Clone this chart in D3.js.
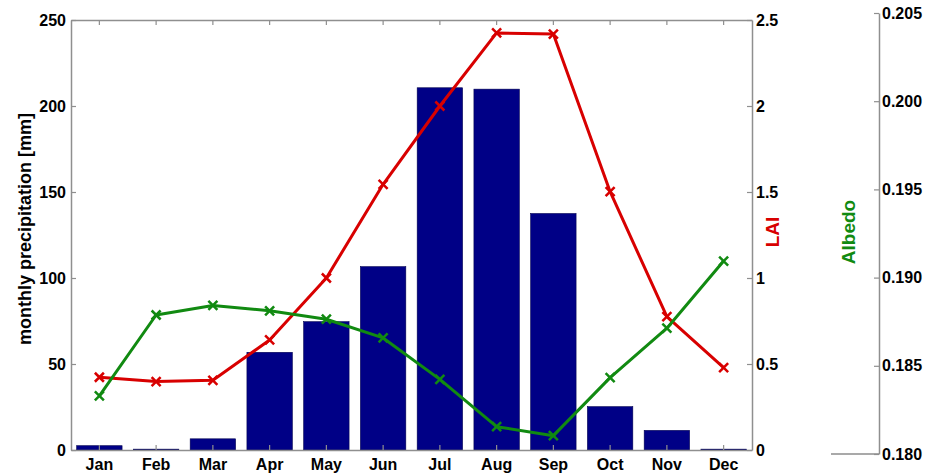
<!DOCTYPE html>
<html>
<head>
<meta charset="utf-8">
<script src="https://cdn.jsdelivr.net/npm/d3@7"></script>
<style>
  html, body { margin: 0; padding: 0; background: #fff; }
  svg { display: block; font-family: "Liberation Sans", Arial, sans-serif; }
  .tick text { font-weight: bold; font-size: 16px; fill: #000; }
</style>
</head>
<body>
<svg id="chart" width="928" height="474"></svg>
<script>
// Monthly climate: precipitation bars, leaf area index and surface albedo
const months = ["Jan", "Feb", "Mar", "Apr", "May", "Jun", "Jul", "Aug", "Sep", "Oct", "Nov", "Dec"];
const precipitation = [2.5, 0.5, 6.5, 56.8, 74.6, 106.6, 210.6, 209.8, 137.5, 25.2, 11.4, 0.5];
const lai = [0.423, 0.398, 0.405, 0.64, 1.0, 1.545, 2.0, 2.425, 2.418, 1.502, 0.775, 0.479];
const albedo = [0.18329, 0.18788, 0.18842, 0.18812, 0.18764, 0.18658, 0.18423, 0.18155, 0.18104, 0.18433, 0.18713, 0.19094];

const precipTicks = [0, 50, 100, 150, 200, 250];
const laiTicks = [0, 0.5, 1, 1.5, 2, 2.5];
const albedoTicks = [0.180, 0.185, 0.190, 0.195, 0.200, 0.205];

const svg = d3.select("#chart");

const plotLeft = 71, plotRight = 752, plotTop = 20, plotBottom = 450;
const albedoX = 879, albedoTop = 13, albedoBottom = 454;

const x = d3.scaleBand().domain(months).range([plotLeft, plotRight]).paddingInner(0.2).paddingOuter(0.1);
const cx = m => x(m) + x.bandwidth() / 2;
const yP = d3.scaleLinear().domain([0, 250]).range([plotBottom, plotTop]);
const yL = d3.scaleLinear().domain([0, 2.5]).range([plotBottom, plotTop]);
const yA = d3.scaleLinear().domain([0.180, 0.205]).range([albedoBottom, albedoTop]);

const axisColor = "#8f8f8f";
const red = "#d80000";
const green = "#118a11";
const navy = "#000086";

// precipitation bars
svg.append("g").selectAll("rect")
  .data(months.map((m, i) => ({ m, v: precipitation[i] })))
  .join("rect")
  .attr("x", d => x(d.m))
  .attr("width", x.bandwidth())
  .attr("y", d => yP(d.v))
  .attr("height", d => yP(0) - yP(d.v))
  .attr("fill", navy)
  .attr("stroke", "#000050")
  .attr("stroke-width", 0.6);

function styleAxis(g) {
  g.selectAll(".domain").attr("stroke", axisColor).attr("stroke-width", 1.5);
  g.selectAll(".tick line").attr("stroke", axisColor).attr("stroke-width", 1.2);
}

// bottom axis with month labels, ticks pointing inward
svg.append("g")
  .attr("transform", `translate(0,${plotBottom})`)
  .call(d3.axisBottom(x).tickSizeInner(-5).tickSizeOuter(0).tickPadding(9))
  .call(styleAxis);

// top frame with month ticks
svg.append("g")
  .attr("transform", `translate(0,${plotTop})`)
  .call(d3.axisTop(x).tickSizeInner(-5).tickSizeOuter(0).tickFormat(""))
  .call(styleAxis);

// left precipitation axis
svg.append("g")
  .attr("transform", `translate(${plotLeft},0)`)
  .call(d3.axisLeft(yP).tickValues(precipTicks).tickSizeInner(-5).tickSizeOuter(0).tickPadding(5))
  .call(styleAxis);

// right LAI axis
svg.append("g")
  .attr("transform", `translate(${plotRight},0)`)
  .call(d3.axisRight(yL).tickValues(laiTicks).tickFormat(d3.format("~g")).tickSizeInner(-5).tickSizeOuter(0).tickPadding(4))
  .call(styleAxis);

// separate albedo axis
svg.append("line")
  .attr("x1", 831).attr("x2", albedoX)
  .attr("y1", albedoBottom).attr("y2", albedoBottom)
  .attr("stroke", "#555").attr("stroke-width", 1.2);
svg.append("g")
  .attr("transform", `translate(${albedoX},0)`)
  .call(d3.axisRight(yA).tickValues(albedoTicks).tickFormat(d3.format(".3f")).tickSizeInner(-5).tickSizeOuter(0).tickPadding(3))
  .call(styleAxis);

// axis titles
svg.append("text")
  .attr("transform", "translate(31,229) rotate(-90)")
  .attr("text-anchor", "middle")
  .attr("font-weight", "bold").attr("font-size", 18)
  .attr("fill", "#000")
  .text("monthly precipitation [mm]");

svg.append("text")
  .attr("transform", "translate(779,232) rotate(-90)")
  .attr("text-anchor", "middle")
  .attr("font-weight", "bold").attr("font-size", 19)
  .attr("fill", red)
  .text("LAI");

svg.append("text")
  .attr("transform", "translate(855,232) rotate(-90)")
  .attr("text-anchor", "middle")
  .attr("font-weight", "bold").attr("font-size", 19)
  .attr("fill", green)
  .text("Albedo");

// line series with x markers
function drawSeries(values, yScale, color) {
  const pts = months.map((m, i) => [cx(m), yScale(values[i])]);
  svg.append("path")
    .attr("d", d3.line()(pts))
    .attr("fill", "none")
    .attr("stroke", color)
    .attr("stroke-width", 3)
    .attr("stroke-linejoin", "round");
  const s = 4.5;
  svg.append("g").selectAll("path")
    .data(pts)
    .join("path")
    .attr("d", p => `M${p[0] - s},${p[1] - s}L${p[0] + s},${p[1] + s}M${p[0] - s},${p[1] + s}L${p[0] + s},${p[1] - s}`)
    .attr("stroke", color)
    .attr("stroke-width", 2.5)
    .attr("fill", "none");
}

drawSeries(lai, yL, red);
drawSeries(albedo, yA, green);
</script>
</body>
</html>
